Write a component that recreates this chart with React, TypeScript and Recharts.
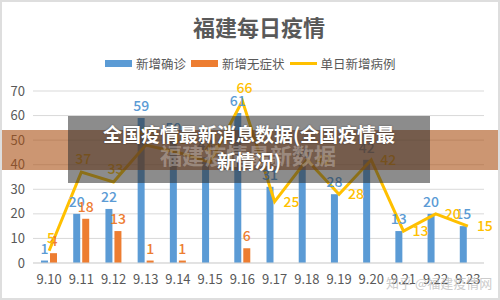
import React from "react";
import {
  ComposedChart,
  Bar,
  Line,
  XAxis,
  YAxis,
  CartesianGrid,
  LabelList,
} from "recharts";

const dates = ["9.10", "9.11", "9.12", "9.13", "9.14", "9.15", "9.16", "9.17", "9.18", "9.19", "9.20", "9.21", "9.22", "9.23"];
const confirmed = [1, 20, 22, 59, 50, 43, 61, 31, 40, 28, 42, 13, 20, 15];
const asymptomatic = [4, 18, 13, 1, 1, 0, 6, 0, 0, 0, 0, 0, 0, 0];
const daily = [5, 37, 33, 48, 45, 41, 66, 25, 42, 28, 42, 13, 20, 15];
const yTicks = [0, 10, 20, 30, 40, 50, 60, 70];

const BLUE = "#5b9bd5";
const ORANGE = "#ed7d31";
const YELLOW = "#ffc000";
const TEXT = "#595959";
const FONT = "'Noto Sans CJK SC', 'Noto Sans', sans-serif";

const chartData = dates.map((d, i) => ({
  date: d,
  confirmed: confirmed[i],
  asym: asymptomatic[i],
  daily: daily[i],
}));

// early points have their label above, later ones to the right
const dailyLabel = (props: any) => {
  const { x, y, value, index } = props;
  const right = index >= 7;
  return (
    <text
      x={right ? x + 9 : x + 2}
      y={right ? y + 5 : y - 8}
      textAnchor={right ? "start" : "middle"}
      fill={YELLOW}
      fontSize={14}
      fontWeight={500}
      fontFamily={FONT}
    >
      {value}
    </text>
  );
};

const legendItem = (label: string, color: string, isLine: boolean) => (
  <div style={{ display: "flex", alignItems: "center", marginRight: 5 }}>
    <div
      style={{
        width: 27,
        height: isLine ? 3 : 7,
        background: color,
        marginRight: 4,
      }}
    />
    <span style={{ fontSize: 12.5, color: TEXT }}>{label}</span>
  </div>
);

export default function App() {
  return (
    <div
      style={{
        position: "absolute",
        left: 0,
        top: 0,
        width: 500,
        height: 300,
        background: "#fff",
        overflow: "hidden",
        fontFamily: FONT,
        boxSizing: "border-box",
        border: "2px solid #dedede",
      }}
    >
      <div style={{ position: "absolute", left: -2, top: -2 }}>
        <ComposedChart
          width={500}
          height={300}
          data={chartData}
          margin={{ top: 91, right: 16, bottom: 7, left: 0 }}
          barSize={7}
          barGap={2}
        >
          <CartesianGrid vertical={false} stroke="#d9d9d9" />
          <XAxis
            dataKey="date"
            axisLine={{ stroke: "#d9d9d9" }}
            tickLine={false}
            tickMargin={6}
            height={30}
            tick={{ fill: TEXT, fontSize: 13, fontFamily: FONT }}
          />
          <YAxis
            domain={[0, 70]}
            ticks={yTicks}
            width={33}
            axisLine={false}
            tickLine={false}
            tick={{ fill: TEXT, fontSize: 13, fontFamily: FONT }}
          />
          <Bar dataKey="confirmed" fill={BLUE} isAnimationActive={false}>
            <LabelList
              dataKey="confirmed"
              position="top"
              offset={7}
              fill={BLUE}
              fontSize={14}
              fontWeight={500}
              fontFamily={FONT}
            />
          </Bar>
          <Bar dataKey="asym" fill={ORANGE} isAnimationActive={false}>
            <LabelList
              dataKey="asym"
              position="top"
              offset={7}
              fill={ORANGE}
              fontSize={14}
              fontWeight={500}
              fontFamily={FONT}
            />
          </Bar>
          <Line
            dataKey="daily"
            type="linear"
            stroke={YELLOW}
            strokeWidth={3}
            dot={false}
            isAnimationActive={false}
          >
            <LabelList dataKey="daily" content={dailyLabel} />
          </Line>
        </ComposedChart>
      </div>

      <div
        style={{
          position: "absolute",
          left: 191,
          top: 8,
          fontSize: 22,
          fontWeight: 700,
          color: TEXT,
        }}
      >
        福建每日疫情
      </div>

      <div
        style={{
          position: "absolute",
          left: 103,
          top: 52,
          display: "flex",
          alignItems: "center",
        }}
      >
        {legendItem("新增确诊", BLUE, false)}
        {legendItem("新增无症状", ORANGE, false)}
        {legendItem("单日新增病例", YELLOW, true)}
      </div>

      <div
        style={{
          position: "absolute",
          left: -2,
          top: 128,
          width: 504,
          height: 40,
          background: "rgba(170, 80, 20, 0.6)",
        }}
      />
      <div
        style={{
          position: "absolute",
          left: 66,
          top: 114,
          width: 362,
          height: 67,
          background: "rgba(45, 45, 45, 0.55)",
        }}
      />
      <div
        style={{
          position: "absolute",
          left: 158,
          top: 136,
          fontSize: 22,
          fontWeight: 700,
          color: "rgba(255,255,255,0.3)",
        }}
      >
        福建疫情最新数据
      </div>
      <div
        style={{
          position: "absolute",
          left: 66,
          top: 118,
          width: 362,
          textAlign: "center",
          fontSize: 19,
          lineHeight: "27px",
          fontWeight: 700,
          color: "#fff",
          textShadow: "0 0 2px rgba(0,0,0,0.4)",
        }}
      >
        全国疫情最新消息数据(全国疫情最
        <br />
        新情况)
      </div>
      <div
        style={{
          position: "absolute",
          left: 384,
          top: 271,
          fontSize: 13,
          color: "rgba(190,190,190,0.8)",
        }}
      >
        知乎 @福建疫情网
      </div>
    </div>
  );
}
